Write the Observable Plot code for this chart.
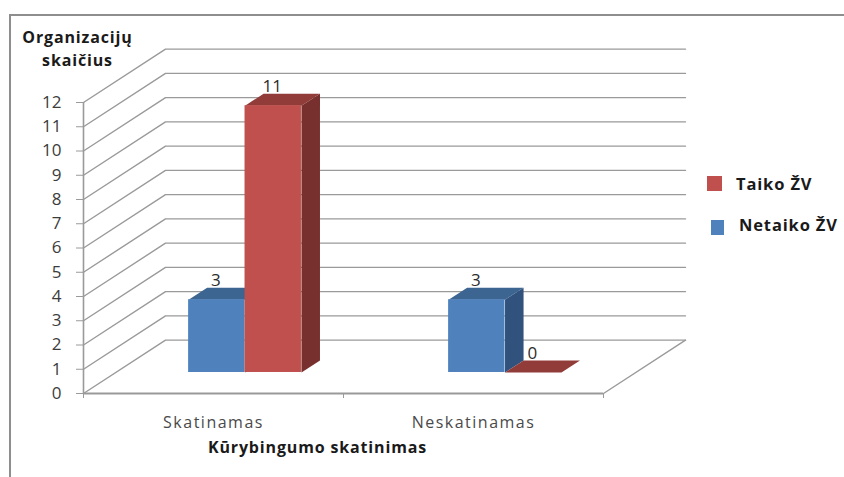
<!DOCTYPE html>
<html lang="lt">
<head>
<meta charset="utf-8">
<script src="https://cdn.jsdelivr.net/npm/d3@7"></script>
<script src="https://cdn.jsdelivr.net/npm/@observablehq/plot@0.6"></script>
<style>
  html, body { margin: 0; background: #fff; }
  #chart { position: relative; width: 844px; height: 477px; overflow: hidden; font-family: "Open Sans", sans-serif; }
  #chart svg { position: absolute; left: 0; top: 0; }
  /* Wider tracking for category names and axis titles */
  #chart g[aria-label="text"][fill="#4a4a4a"] { letter-spacing: 1.5px; }
  #chart g[aria-label="text"][font-weight="700"] { letter-spacing: 0.85px; }
  #border { position: absolute; left: 9px; top: 14px; right: -4px; bottom: -4px; border-left: 2px solid #8e8e8e; border-top: 2px solid #8e8e8e; }
  .key { position: absolute; font-weight: 700; font-size: 16.5px; letter-spacing: 0.85px; line-height: 20px; color: #1a1a1a; white-space: nowrap; }
  .swatch { position: absolute; }
</style>
</head>
<body>
<div id="chart"></div>
<script>
// Number of organizations by whether creativity is encouraged
const categories = ["Skatinamas", "Neskatinamas"];
const netaiko = [3, 3];
const taiko = [11, 0];
const yTicks = [0, 1, 2, 3, 4, 5, 6, 7, 8, 9, 10, 11, 12];

const blue = { front: "#4f81bd", top: "#3d6592", side: "#31527c" };
const red = { front: "#c0504d", top: "#923c39", side: "#78302e" };

// Oblique projection: one unit of depth shifts a point along both scales
const depthX = 0.3154;
const depthY = 2.2;
const project = (u, v, d) => ({ x: u + d * depthX, y: v + d * depthY });

// Slot of a bar within its category and along the depth axis
const barStart = 0.28, barWidth = 0.217, nearDepth = 0.394, farDepth = 0.62;

const bars = categories.flatMap((c, i) => [
  { category: c, series: "Netaiko ŽV", value: netaiko[i], u0: i + barStart, colors: blue },
  { category: c, series: "Taiko ŽV", value: taiko[i], u0: i + barStart + barWidth, colors: red }
]).map((b) => ({ ...b, u1: b.u0 + barWidth }));

// Top and side parallelograms of every bar, painted behind the front faces
const faces = bars.flatMap((b, i) => {
  const corners = {
    top: [[b.u0, nearDepth], [b.u1, nearDepth], [b.u1, farDepth], [b.u0, farDepth]],
    side: [[b.u1, nearDepth, 0], [b.u1, farDepth, 0], [b.u1, farDepth], [b.u1, nearDepth]]
  };
  return Object.entries(corners).flatMap(([name, pts]) =>
    b.value === 0 && name === "side" ? [] :
    pts.map(([u, d, v]) => ({ ...project(u, v ?? b.value, d), face: `${i}-${name}`, shade: b.colors[name] }))
  );
});

// Front faces sit on the floor at the near depth
const fronts = bars.map((b) => ({
  x1: b.u0 + nearDepth * depthX,
  x2: b.u1 + nearDepth * depthX,
  y1: nearDepth * depthY,
  y2: b.value + nearDepth * depthY,
  fill: b.colors.front,
  value: b.value
}));

// Side wall and back wall gridlines for each value, plus the floor's right edge
const grid = yTicks.flatMap((v) => [
  { ...project(0, v, 0), level: v },
  { ...project(0, v, 1), level: v },
  { ...project(2, v, 1), level: v }
]);
const floorEdge = [project(2, 0, 0), project(2, 0, 1)];

const plot = Plot.plot({
  width: 844,
  height: 477,
  marginLeft: 83,
  marginRight: 241,
  marginTop: 102,
  marginBottom: 84,
  x: { domain: [0, 2] },
  y: { domain: [0, 12] },
  style: { background: "transparent", fontFamily: "'Open Sans', sans-serif", overflow: "visible" },
  marks: [
    Plot.line(grid, { x: "x", y: "y", z: "level", stroke: "#9a9a9a", strokeWidth: 1.4 }),
    Plot.line(floorEdge, { x: "x", y: "y", stroke: "#9a9a9a", strokeWidth: 1.4 }),
    Plot.ruleX([0], { y1: 0, y2: 12, stroke: "#9a9a9a", strokeWidth: 1.6 }),
    Plot.ruleY([0], { x1: 0, x2: 2, stroke: "#9a9a9a", strokeWidth: 1.8 }),
    Plot.axisY({
      ticks: yTicks, tickSize: 7, tickPadding: 15, fontSize: 17, stroke: "#9a9a9a",
      color: "#3c3c3c", label: null, tickFormat: (d) => d
    }),
    Plot.axisX({ ticks: [0, 1, 2], tickSize: 5, stroke: "#9a9a9a", tickFormat: () => "", label: null }),
    Plot.line(faces, { x: "x", y: "y", z: "face", fill: "shade", stroke: "none" }),
    Plot.rect(fronts, { x1: "x1", x2: "x2", y1: "y1", y2: "y2", fill: "fill" }),
    // Value labels above each bar
    Plot.text(bars, {
      x: (b) => (b.u0 + b.u1) / 2 + nearDepth * depthX,
      y: (b) => b.value + nearDepth * depthY,
      text: "value", dy: -19, dx: -1, fontSize: 17, fill: "#2c2c2c"
    }),
    // Category names under the floor
    Plot.text(categories, {
      x: (d, i) => i + 0.5, y: () => 0, text: (d) => d, dy: 29,
      fontSize: 16, fill: "#4a4a4a"
    }),
    // Axis titles
    Plot.text(["Kūrybingumo skatinimas"], {
      x: () => 0.9, y: () => 0, text: (d) => d, dy: 54,
      fontSize: 16, fontWeight: 700, fill: "#1a1a1a"
    }),
    Plot.text(["Organizacijų\nskaičius"], {
      x: () => 0, y: () => 12, text: (d) => d, dx: -6, dy: -55,
      fontSize: 16, fontWeight: 700, fill: "#1a1a1a", lineHeight: 1.44
    })
  ]
});

const chart = document.getElementById("chart");
chart.append(plot);

const border = document.createElement("div");
border.id = "border";
chart.append(border);

// Legend beside the plot
const legendItems = [
  { label: "Taiko ŽV", color: red.front, box: [707, 176, 15, 15], text: [736, 174] },
  { label: "Netaiko ŽV", color: blue.front, box: [711, 220, 13, 15], text: [739, 215] }
];
for (const item of legendItems) {
  const swatch = document.createElement("div");
  swatch.className = "swatch";
  const [l, t, w, h] = item.box;
  swatch.style.cssText = `left:${l}px;top:${t}px;width:${w}px;height:${h}px;background:${item.color}`;
  const key = document.createElement("div");
  key.className = "key";
  key.textContent = item.label;
  key.style.left = item.text[0] + "px";
  key.style.top = item.text[1] + "px";
  chart.append(swatch, key);
}
</script>
</body>
</html>
